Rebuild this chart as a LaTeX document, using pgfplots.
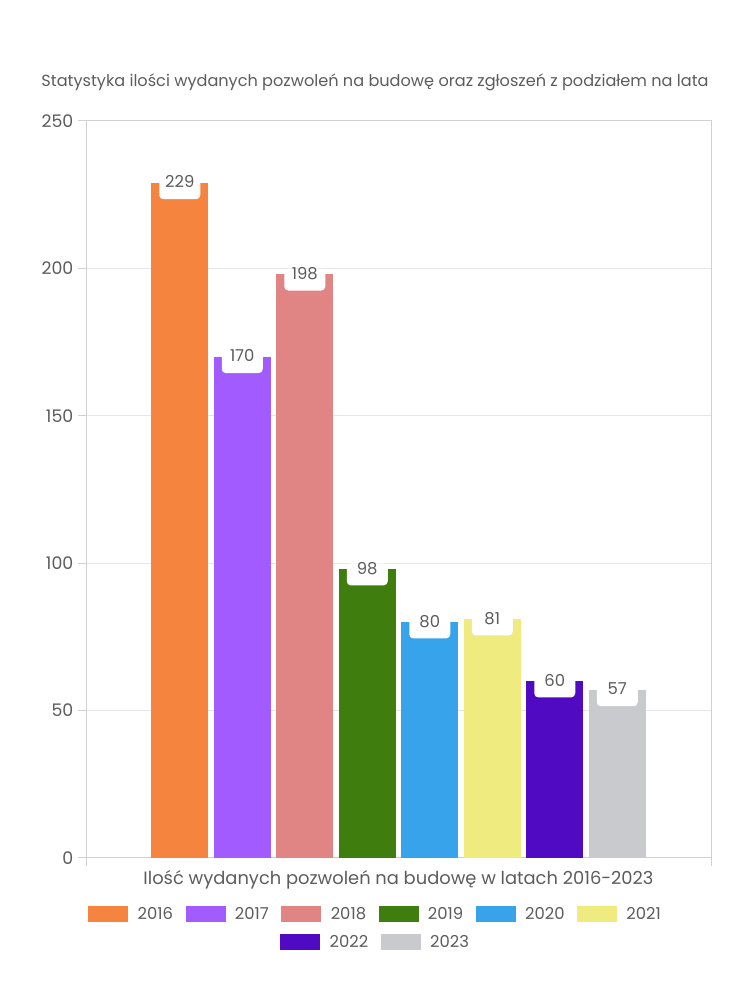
\documentclass[border=0pt]{standalone}
\usepackage{pgfplots}
\pgfplotsset{compat=1.18}
\usepackage{fontspec}
\setmainfont{Poppins}
\definecolor{c16}{HTML}{F5843F}
\definecolor{c17}{HTML}{A15BFF}
\definecolor{c18}{HTML}{E08484}
\definecolor{c19}{HTML}{3F7D0F}
\definecolor{c20}{HTML}{37A3EA}
\definecolor{c21}{HTML}{F0EB7E}
\definecolor{c22}{HTML}{4F0AC2}
\definecolor{c23}{HTML}{C9CACE}
\definecolor{txt}{HTML}{5C5C5C}
\definecolor{gridc}{HTML}{E6E6E6}
\definecolor{axc}{HTML}{D0D0D0}
\pgfplotsset{
  common/.style={
    at={(64.5pt,106.5pt)}, anchor=south west, scale only axis,
    width=468.75pt, height=552.75pt,
    xmin=-5, xmax=5, ymin=0, ymax=250,
  },
  myleg/.style={legend image code/.code={\fill[##1] (0pt,-6pt) rectangle (30pt,6pt);}},
}
\begin{document}
\begin{tikzpicture}
\useasboundingbox (0,0) rectangle (562.5pt,750pt);
\begin{axis}[common,
  ybar=4.125pt, bar width=42.75pt, myleg,
  ytick={0,50,...,250}, xtick={-5,5}, xticklabels={},
  ymajorgrids, grid style={gridc, line width=0.75pt},
  axis line style={axc, line width=0.75pt},
  tick style={axc, line width=0.75pt}, major tick length=6pt, tick align=outside,
  tick pos=left,
  /pgf/number format/assume math mode=true,
  yticklabel style={font=\fontsize{13}{15}\selectfont, text=txt},
  title={Statystyka ilości wydanych pozwoleń na budowę oraz zgłoszeń z podziałem na lata},
  title style={at={(axis description cs:0.5,1)}, anchor=center, yshift=23.25pt, xshift=-17.6pt, font=\fontsize{12.1}{14}\selectfont, text=txt},
  xlabel={Ilość wydanych pozwoleń na budowę w latach 2016-2023},
  xlabel style={at={(axis description cs:0.5,0)}, anchor=center, yshift=-16.5pt, font=\fontsize{13.4}{15}\selectfont, text=txt},
  legend style={at={(axis description cs:0.5,0)}, anchor=center, yshift=-42pt, xshift=-16.9pt, draw=none, fill=none,
    legend columns=6, font=\fontsize{12.3}{14}\selectfont, text=txt,
    /tikz/every odd column/.append style={column sep=5pt},
    /tikz/every even column/.append style={column sep=7.4pt}},
  nodes near coords,
  every node near coord/.append style={anchor=north, yshift=4.5pt, fill=white, rounded corners=3pt,
    inner sep=0pt, minimum width=30.75pt, text height=8pt, text depth=8.5pt,
    font=\fontsize{12.3}{14}\selectfont, text=txt},
]
\addplot[fill=c16, draw=none] coordinates {(0,229)};
\addlegendentry{2016}
\addplot[fill=c17, draw=none] coordinates {(0,170)};
\addlegendentry{2017}
\addplot[fill=c18, draw=none] coordinates {(0,198)};
\addlegendentry{2018}
\addplot[fill=c19, draw=none] coordinates {(0,98)};
\addlegendentry{2019}
\addplot[fill=c20, draw=none] coordinates {(0,80)};
\addlegendentry{2020}
\addplot[fill=c21, draw=none] coordinates {(0,81)};
\addlegendentry{2021}
\addplot[fill=c22, draw=none] coordinates {(0,60)};
\addplot[fill=c23, draw=none] coordinates {(0,57)};
\end{axis}
\begin{axis}[common, hide axis, myleg,
  legend style={at={(axis description cs:0.5,0)}, anchor=center, yshift=-63pt, xshift=-16.9pt, draw=none, fill=none,
    legend columns=2, font=\fontsize{12.3}{14}\selectfont, text=txt,
    /tikz/every odd column/.append style={column sep=5pt},
    /tikz/every even column/.append style={column sep=7.4pt}},
]
\addlegendimage{fill=c22, draw=none}
\addlegendentry{2022}
\addlegendimage{fill=c23, draw=none}
\addlegendentry{2023}
\end{axis}
\end{tikzpicture}
\end{document}
